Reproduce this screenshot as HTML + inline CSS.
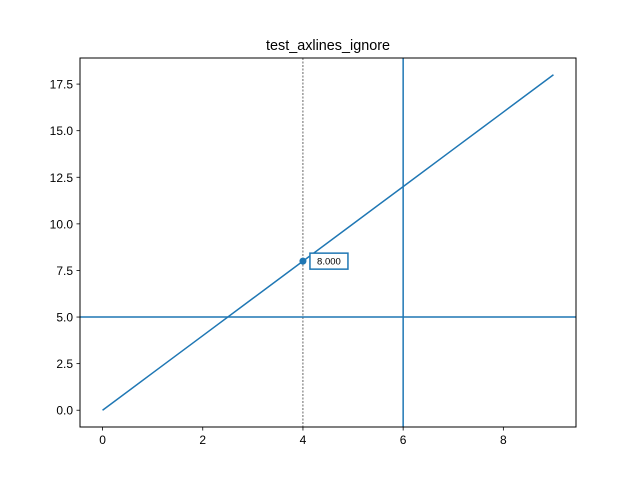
<!DOCTYPE html>
<html><head><meta charset="utf-8"><style>body{margin:0;background:#fff}svg{display:block;font-family:"Liberation Sans","DejaVu Sans",sans-serif}</style></head>
<body>
<svg id="chart" width="640" height="480">
<rect x="0" y="0" width="640" height="480" fill="#fff"/>
<text x="328" y="50" text-anchor="middle" font-size="14.4" fill="#000">test_axlines_ignore</text>
<g id="g"></g>
</svg>
<script>
const xs = [0,1,2,3,4,5,6,7,8,9];
const ys = [0,2,4,6,8,10,12,14,16,18];
const xTicks = [0,2,4,6,8];
const yTicks = [0,2.5,5,7.5,10,12.5,15,17.5];
const hLineValue = [5];
const vLineValue = [6];
const markerPoint = [4,8];
const markerLabel = ["8.000"];
const L=80,R=576,T=58,B=427;
const xmin=-0.45,xmax=9.45,ymin=-0.9,ymax=18.9;
const X=v=>L+(v-xmin)/(xmax-xmin)*(R-L);
const Y=v=>B-(v-ymin)/(ymax-ymin)*(B-T);
const g=document.getElementById('g');
const NS='http://www.w3.org/2000/svg';
function mk(t,a){const e=document.createElementNS(NS,t);for(const k in a)e.setAttribute(k,a[k]);g.appendChild(e);return e;}
const C='#1f77b4';
let e=mk('line',{x1:X(markerPoint[0]),x2:X(markerPoint[0]),y1:T,y2:B,stroke:'#000','stroke-width':0.6,'stroke-dasharray':'2,1.5'});


e=mk('polyline',{points:xs.map((x,i)=>X(x)+','+Y(ys[i])).join(' '),fill:'none',stroke:C,'stroke-width':1.5});


e=mk('line',{x1:L,x2:R,y1:Y(hLineValue[0]),y2:Y(hLineValue[0]),stroke:C,'stroke-width':1.5});


e=mk('line',{x1:X(vLineValue[0]),x2:X(vLineValue[0]),y1:T,y2:B,stroke:C,'stroke-width':1.5});


e=mk('circle',{cx:X(markerPoint[0]),cy:Y(markerPoint[1]),r:3.5,fill:C});


e=mk('rect',{x:X(markerPoint[0])+7,y:Y(markerPoint[1])-8,width:38,height:16,fill:'#fff',stroke:C,'stroke-width':1.5});


e=mk('text',{x:X(markerPoint[0])+26,y:Y(markerPoint[1])+3.5,'text-anchor':'middle','font-size':9.5,fill:'#000'});
e.textContent=markerLabel[0];


e=mk('rect',{x:L,y:T,width:R-L,height:B-T,fill:'none',stroke:'#000','stroke-width':1});


xTicks.forEach(t=>{
 let l=mk('line',{x1:X(t),x2:X(t),y1:B,y2:B+3.5,stroke:'#000','stroke-width':0.8});
 
 
 let s=mk('text',{x:X(t),y:B+17,'text-anchor':'middle','font-size':12,fill:'#000'});s.textContent=t;
 
 
});
yTicks.forEach(t=>{
 let l=mk('line',{x1:L-3.5,x2:L,y1:Y(t),y2:Y(t),stroke:'#000','stroke-width':0.8});
 
 
 let s=mk('text',{x:L-7,y:Y(t)+4.5,'text-anchor':'end','font-size':12,fill:'#000'});s.textContent=t.toFixed(1);
 
 
});
</script>
</body></html>
